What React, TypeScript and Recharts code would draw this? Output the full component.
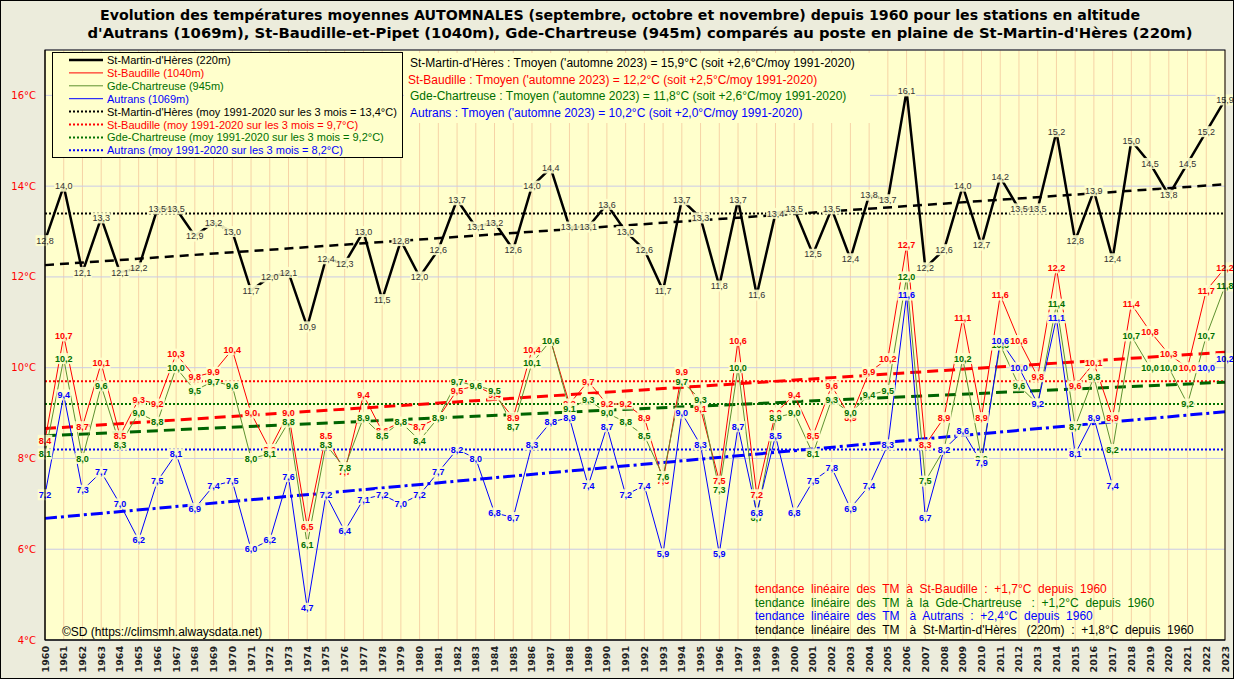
import React from "react";
import {
  LineChart,
  Line,
  XAxis,
  YAxis,
  CartesianGrid,
  ReferenceLine,
  LabelList,
} from "recharts";

// années 1960 -> 2023
const years = [
  1960, 1961, 1962, 1963, 1964, 1965, 1966, 1967, 1968, 1969,
  1970, 1971, 1972, 1973, 1974, 1975, 1976, 1977, 1978, 1979,
  1980, 1981, 1982, 1983, 1984, 1985, 1986, 1987, 1988, 1989,
  1990, 1991, 1992, 1993, 1994, 1995, 1996, 1997, 1998, 1999,
  2000, 2001, 2002, 2003, 2004, 2005, 2006, 2007, 2008, 2009,
  2010, 2011, 2012, 2013, 2014, 2015, 2016, 2017, 2018, 2019,
  2020, 2021, 2022, 2023,
];

const stMartin = [
  12.8, 14.0, 12.1, 13.3, 12.1, 12.2, 13.5, 13.5, 12.9, 13.2,
  13.0, 11.7, 12.0, 12.1, 10.9, 12.4, 12.3, 13.0, 11.5, 12.8,
  12.0, 12.6, 13.7, 13.1, 13.2, 12.6, 14.0, 14.4, 13.1, 13.1,
  13.6, 13.0, 12.6, 11.7, 13.7, 13.3, 11.8, 13.7, 11.6, 13.4,
  13.5, 12.5, 13.5, 12.4, 13.8, 13.7, 16.1, 12.2, 12.6, 14.0,
  12.7, 14.2, 13.5, 13.5, 15.2, 12.8, 13.9, 12.4, 15.0, 14.5,
  13.8, 14.5, 15.2, 15.9,
];

const stBaudille = [
  8.4, 10.7, 8.7, 10.1, 8.5, 9.3, 9.2, 10.3, 9.8, 9.9,
  10.4, 9.0, 8.2, 9.0, 6.5, 8.5, 7.7, 9.4, 8.6, 8.8,
  8.7, 8.9, 9.5, 9.6, 9.4, 8.9, 10.4, 10.6, 9.2, 9.7,
  9.2, 9.2, 8.9, 7.5, 9.9, 9.1, 7.5, 10.6, 7.2, 9.0,
  9.4, 8.5, 9.6, 8.9, 9.9, 10.2, 12.7, 8.3, 8.9, 11.1,
  8.9, 11.6, 10.6, 9.8, 12.2, 9.6, 10.1, 8.9, 11.4, 10.8,
  10.3, 10.0, 11.7, 12.2,
];

const chartreuse = [
  8.1, 10.2, 8.0, 9.6, 8.3, 9.0, 8.8, 10.0, 9.5, 9.7,
  9.6, 8.0, 8.1, 8.8, 6.1, 8.3, 7.8, 8.9, 8.5, 8.8,
  8.4, 8.9, 9.7, 9.6, 9.5, 8.7, 10.1, 10.6, 9.1, 9.3,
  9.0, 8.8, 8.5, 7.6, 9.7, 9.3, 7.3, 10.0, 6.7, 8.9,
  9.0, 8.1, 9.3, 9.0, 9.4, 9.5, 12.0, 7.5, 8.2, 10.2,
  8.0, 10.5, 9.6, 9.2, 11.4, 8.7, 9.8, 8.2, 10.7, 10.0,
  10.0, 9.2, 10.7, 11.8,
];

const autrans: (number | null)[] = [
  7.2, 9.4, 7.3, 7.7, 7.0, 6.2, 7.5, 8.1, 6.9, 7.4,
  7.5, 6.0, 6.2, 7.6, 4.7, 7.2, 6.4, 7.1, 7.2, 7.0,
  7.2, 7.7, 8.2, 8.0, 6.8, 6.7, 8.3, 8.8, 8.9, 7.4,
  8.7, 7.2, 7.4, 5.9, 9.0, 8.3, 5.9, 8.7, 6.8, 8.5,
  6.8, 7.5, 7.8, 6.9, 7.4, 8.3, 11.6, 6.7, 8.2, 8.6,
  7.9, 10.6, 10.0, 9.2, 11.1, 8.1, 8.9, 7.4, null, null,
  null, null, 10.0, 10.2,
];

// moyennes 1991-2020
const normStMartin = 13.4;
const normBaudille = 9.7;
const normChartreuse = 9.2;
const normAutrans = 8.2;

// tendances linéaires : valeur en 1960 et en 2023
const trendStMartin = [12.26, 14.04];
const trendBaudille = [8.66, 10.34];
const trendChartreuse = [8.5, 9.68];
const trendAutrans = [6.68, 9.03];

const yTicks = [4, 6, 8, 10, 12, 14, 16];

const data = years.map((y, i) => ({
  year: String(y),
  stMartin: stMartin[i],
  stBaudille: stBaudille[i],
  chartreuse: chartreuse[i],
  autrans: autrans[i],
}));

const BG = "#FFFFCC";
const OLIVE = "#5E9130";
const DKGREEN = "#007000";

const fmt = (v: number) => v.toFixed(1).replace(".", ",");

const makeLabel = (color: string, bold: boolean) => (props: any) => {
  const { x, y, value } = props;
  if (value == null || x == null || y == null) return null;
  const txt = fmt(Number(value));
  const w = txt.length * 4.2 + 2;
  return (
    <g>
      <rect x={x - w / 2} y={y - 5.5} width={w} height={11} fill={BG} fillOpacity={0.9} />
      <text
        x={x}
        y={y + 3.2}
        textAnchor="middle"
        fontSize={9}
        fontFamily="Liberation Sans"
        fontWeight={bold ? "bold" : "normal"}
        fill={color}
      >
        {txt}
      </text>
    </g>
  );
};

const YearTick = (props: any) => {
  const { x, y, payload } = props;
  return (
    <text
      transform={`translate(${x + 3.5},${y + 2}) rotate(-90)`}
      textAnchor="end"
      fontSize={9.5}
      fontWeight="bold"
      fontFamily="DejaVu Sans"
      fill="#222"
    >
      {payload.value}
    </text>
  );
};

const legendRows = [
  { label: "St-Martin-d'Hères (220m)", color: "#000", text: "#000", w: 2.5, dot: false },
  { label: "St-Baudille (1040m)", color: "#FF0000", text: "#FF0000", w: 1, dot: false },
  { label: "Gde-Chartreuse (945m)", color: OLIVE, text: DKGREEN, w: 1, dot: false },
  { label: "Autrans (1069m)", color: "#0000FF", text: "#0000FF", w: 1, dot: false },
  { label: "St-Martin-d'Hères (moy 1991-2020 sur les 3 mois = 13,4°C)", color: "#000", text: "#000", w: 2, dot: true },
  { label: "St-Baudille (moy 1991-2020 sur les 3 mois = 9,7°C)", color: "#FF0000", text: "#FF0000", w: 2, dot: true },
  { label: "Gde-Chartreuse (moy 1991-2020 sur les 3 mois = 9,2°C)", color: DKGREEN, text: DKGREEN, w: 2, dot: true },
  { label: "Autrans (moy 1991-2020 sur les 3 mois = 8,2°C)", color: "#0000FF", text: "#0000FF", w: 2, dot: true },
];

const infoRows = [
  { t: "St-Martin-d'Hères : Tmoyen ('automne 2023) = 15,9°C (soit +2,6°C/moy 1991-2020)", c: "#000" },
  { t: "St-Baudille : Tmoyen ('automne 2023) = 12,2°C (soit +2,5°C/moy 1991-2020)", c: "#FF0000" },
  { t: "Gde-Chartreuse : Tmoyen ('automne 2023) = 11,8°C (soit +2,6°C/moy 1991-2020)", c: DKGREEN },
  { t: "Autrans : Tmoyen ('automne 2023) = 10,2°C (soit +2,0°C/moy 1991-2020)", c: "#0000FF" },
];

const trendRows = [
  { t: "tendance  linéaire  des  TM  à  St-Baudille  :  +1,7°C  depuis  1960", c: "#FF0000" },
  { t: "tendance  linéaire  des  TM  à  la  Gde-Chartreuse   :  +1,2°C  depuis  1960", c: DKGREEN },
  { t: "tendance  linéaire  des  TM   à  Autrans  :  +2,4°C  depuis  1960", c: "#0000FF" },
  { t: "tendance  linéaire  des  TM   à  St-Martin-d'Hères   (220m)  :  +1,8°C  depuis  1960", c: "#000" },
];

export default function App() {
  return (
    <div style={{ position: "relative", width: 1234, height: 679, background: "#ECECDC" }}>
      <style>{`body{margin:0}`}</style>
      <LineChart
        width={1234}
        height={679}
        data={data}
        margin={{ top: 50, right: 9, bottom: 0, left: 0 }}
      >
        <CartesianGrid horizontal={false} stroke="#F6D3A6" fill={BG} strokeWidth={1} />
        <CartesianGrid vertical={false} stroke="#CACAE6" strokeWidth={1} />
        <XAxis
          dataKey="year"
          interval={0}
          height={39}
          tickLine={false}
          tickSize={0}
          tickMargin={4}
          axisLine={{ stroke: "#000" }}
          tick={<YearTick />}
        />
        <YAxis
          domain={[4, 17]}
          ticks={yTicks}
          width={45}
          tickLine={false}
          tickMargin={3}
          axisLine={{ stroke: "#000" }}
          tickFormatter={(v: number) => `${v}°C`}
          tick={{ fill: "#FF0000", fontSize: 10, fontFamily: "DejaVu Sans" }}
        />

        <ReferenceLine y={normStMartin} stroke="#000" strokeWidth={2} strokeDasharray="2 2" />
        <ReferenceLine y={normBaudille} stroke="#FF0000" strokeWidth={2} strokeDasharray="2 2" />
        <ReferenceLine y={normChartreuse} stroke={DKGREEN} strokeWidth={2} strokeDasharray="2 2" />
        <ReferenceLine y={normAutrans} stroke="#0000FF" strokeWidth={2} strokeDasharray="2 2" />

        <ReferenceLine
          segment={[{ x: "1960", y: trendStMartin[0] }, { x: "2023", y: trendStMartin[1] }]}
          stroke="#000"
          strokeWidth={2.5}
          strokeDasharray="9 6"
        />
        <ReferenceLine
          segment={[{ x: "1960", y: trendBaudille[0] }, { x: "2023", y: trendBaudille[1] }]}
          stroke="#FF0000"
          strokeWidth={3}
          strokeDasharray="11 6"
        />
        <ReferenceLine
          segment={[{ x: "1960", y: trendChartreuse[0] }, { x: "2023", y: trendChartreuse[1] }]}
          stroke="#006400"
          strokeWidth={3}
          strokeDasharray="11 6"
        />
        <ReferenceLine
          segment={[{ x: "1960", y: trendAutrans[0] }, { x: "2023", y: trendAutrans[1] }]}
          stroke="#0000FF"
          strokeWidth={3}
          strokeDasharray="12 4 3 4"
        />

        <Line dataKey="stMartin" stroke="#000" strokeWidth={2.5} dot={false} isAnimationActive={false}>
          <LabelList dataKey="stMartin" content={makeLabel("#333", false)} />
        </Line>
        <Line dataKey="stBaudille" stroke="#FF0000" strokeWidth={1} dot={false} isAnimationActive={false}>
          <LabelList dataKey="stBaudille" content={makeLabel("#FF0000", true)} />
        </Line>
        <Line dataKey="chartreuse" stroke={OLIVE} strokeWidth={1} dot={false} isAnimationActive={false}>
          <LabelList dataKey="chartreuse" content={makeLabel(DKGREEN, true)} />
        </Line>
        <Line dataKey="autrans" stroke="#0000FF" strokeWidth={1} dot={false} isAnimationActive={false}>
          <LabelList dataKey="autrans" content={makeLabel("#0000FF", true)} />
        </Line>
      </LineChart>

      <svg
        width={1234}
        height={679}
        style={{ position: "absolute", left: 0, top: 0, pointerEvents: "none" }}
      >
        <rect x={0.5} y={0.5} width={1233} height={678} fill="none" stroke="#000" />
        <rect x={45} y={50} width={1180} height={590} fill="none" stroke="#000" />

        <g fontFamily="DejaVu Sans" fontWeight="bold" fontSize={14} fill="#000" textAnchor="middle">
          <text x={620} y={20} textLength={1040} lengthAdjust="spacingAndGlyphs">
            Evolution des températures moyennes AUTOMNALES (septembre, octobre et novembre) depuis 1960 pour les stations en altitude
          </text>
          <text x={640} y={38} textLength={1105} lengthAdjust="spacingAndGlyphs">
            d'Autrans (1069m), St-Baudille-et-Pipet (1040m), Gde-Chartreuse (945m) comparés au poste en plaine de St-Martin-d'Hères (220m)
          </text>
        </g>

        <rect x={52.5} y={52.5} width={350} height={105} fill={BG} stroke="#000" strokeWidth={1} />
        {legendRows.map((r, i) => {
          const cy = 60 + i * 12.9;
          return (
            <g key={r.label}>
              <line
                x1={69}
                x2={103}
                y1={cy}
                y2={cy}
                stroke={r.color}
                strokeWidth={r.w}
                strokeDasharray={r.dot ? "2 2" : undefined}
              />
              <text x={107} y={cy + 4} fontSize={11} fontFamily="Liberation Sans" fill={r.text}>
                {r.label}
              </text>
            </g>
          );
        })}

        <rect x={404} y={53} width={466} height={70} fill={BG} />
        {infoRows.map((r, i) => (
          <text
            key={r.t}
            x={i === 1 ? 408 : 410}
            y={67 + i * 16.7}
            fontSize={12}
            fontFamily="Liberation Sans"
            fill={r.c}
          >
            {r.t}
          </text>
        ))}

        {trendRows.map((r, i) => (
          <text
            key={r.t}
            x={755}
            y={593 + i * 13.7}
            fontSize={12}
            fontFamily="Liberation Sans"
            fill={r.c}
            style={{ whiteSpace: "pre" }}
          >
            {r.t}
          </text>
        ))}

        <text x={62} y={636} fontSize={12} fontFamily="Liberation Sans" fill="#000">
          ©SD (https://climsmh.alwaysdata.net)
        </text>
      </svg>
    </div>
  );
}
